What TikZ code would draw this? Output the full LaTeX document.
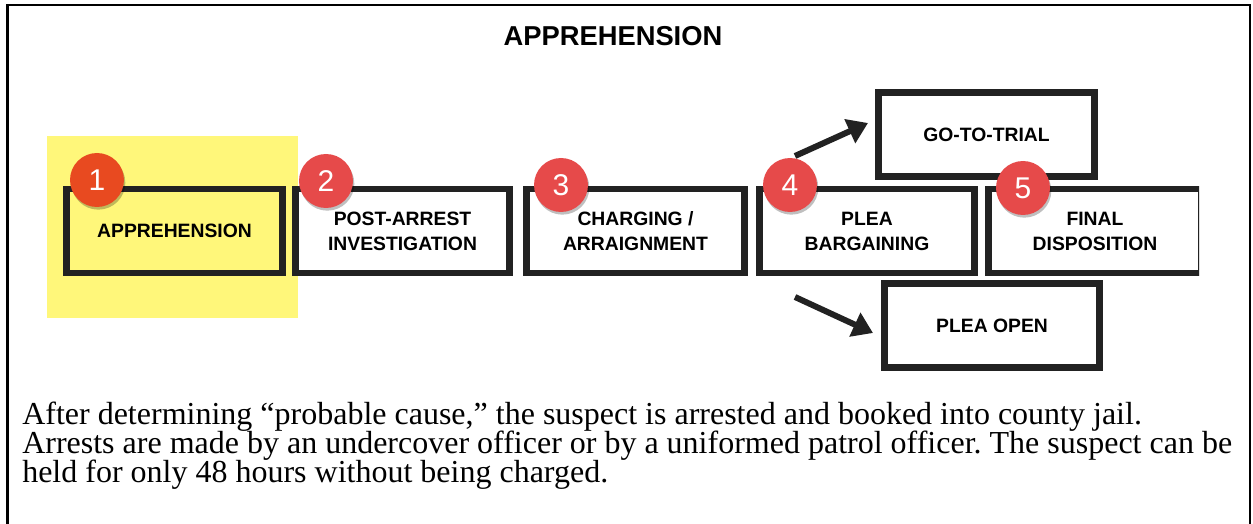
\documentclass[tikz,border=0pt]{standalone}
\usepackage{fontspec}
\setmainfont{Liberation Serif}
\newfontfamily\sansfam{Liberation Sans}
\usetikzlibrary{shadows,arrows.meta}
\definecolor{boxline}{RGB}{34,34,34}
\definecolor{hiyellow}{RGB}{255,247,122}
\definecolor{numorange}{RGB}{232,74,32}
\definecolor{numred}{RGB}{230,74,74}
\frenchspacing
\tikzset{
  stagebox/.style={draw=boxline, line width=5pt, fill=white, inner sep=0pt,
    minimum width=#1*0.75pt, minimum height=63pt, align=center,
    font=\sansfam\bfseries\fontsize{14.5}{18.75}\selectfont,
    drop shadow={shadow xshift=1.5pt, shadow yshift=-2.5pt, opacity=0.25, fill=black}},
  numdot/.style={circle, fill=#1, inner sep=0pt, minimum size=40.5pt, text=white,
    font=\sansfam\fontsize{22.5}{22.5}\selectfont,
    drop shadow={shadow xshift=1pt, shadow yshift=-2pt, opacity=0.25, fill=black}},
  bigarrow/.style={draw=boxline, line width=4.5pt, -{Triangle[length=15pt,width=19pt]}},
  paraline/.style={anchor=base west, inner sep=0pt, font=\fontsize{24}{27}\selectfont},
  framestyle/.style={draw=black, line width=1.6pt}
}
\begin{document}
\begin{tikzpicture}[x=0.75pt,y=-0.75pt]
\useasboundingbox (0,0) rectangle (1253,524);
% frame
\draw[framestyle] (7.5,524) -- (7.5,5) -- (1250,5) -- (1250,524);
% title
\node[anchor=base, inner sep=0pt, font=\sansfam\bfseries\fontsize{20.5}{24}\selectfont] (title) at (613,46) {APPREHENSION};
% highlight
\fill[hiyellow] (47,136) rectangle (298,318);
% boxes
\node[stagebox=216.3, fill=hiyellow] (b1) at (174.5,231) {APPREHENSION};
\node[stagebox=214.3] (b2) at (402.5,231) {POST-ARREST\\INVESTIGATION};
\node[stagebox=218.3] (b3) at (635.5,231) {CHARGING /\\ARRAIGNMENT};
\node[stagebox=215.3] (b4) at (867,231) {PLEA\\BARGAINING};
\begin{scope}
  \clip (980,150) rectangle (1199,300);
  \node[stagebox=213.3] (b5) at (1095,231) {FINAL\\DISPOSITION};
\end{scope}
\node[stagebox=216.3] (gt) at (986.5,134.5) {GO-TO-TRIAL};
\node[stagebox=215.3] (po) at (992,325.5) {PLEA OPEN};
% arrows
\coordinate (a1s) at (795,156);
\coordinate (a1e) at (868,123);
\coordinate (a2s) at (795,297);
\coordinate (a2e) at (873,333);
\draw[bigarrow] (a1s) -- (a1e);
\draw[bigarrow] (a2s) -- (a2e);
% numbers
\node[numdot=numorange] (n1) at (97,180) {1};
\node[numdot=numred] (n2) at (326,181) {2};
\node[numdot=numred] (n3) at (561,185) {3};
\node[numdot=numred] (n4) at (790,185) {4};
\node[numdot=numred] (n5) at (1023,188) {5};
% paragraph
\node[paraline] (p1) at (22,424) {After determining “probable cause,” the suspect is arrested and booked into county jail.};
\node[paraline] (p2) at (22,453) {Arrests are made by an undercover officer or by a uniformed patrol officer. The suspect can be};
\node[paraline] (p3) at (22,482) {held for only 48 hours without being charged.};
\end{tikzpicture}
\end{document}
